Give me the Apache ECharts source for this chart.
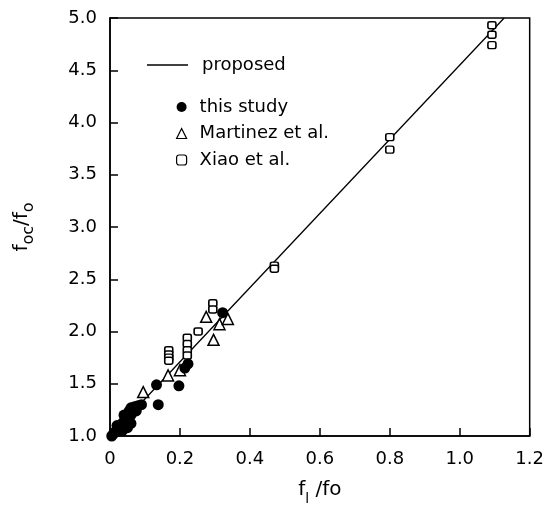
<!DOCTYPE html>
<html>
<head>
<meta charset="utf-8">
<script src="https://cdn.jsdelivr.net/npm/echarts@6/dist/echarts.min.js"></script>
<style>html,body{margin:0;padding:0;background:#fff}#c{width:547px;height:512px}</style>
</head>
<body>
<div id="c"></div>
<script>
var xTicks = [0, 0.2, 0.4, 0.6, 0.8, 1.0, 1.2];
var yTicks = [1.0, 1.5, 2.0, 2.5, 3.0, 3.5, 4.0, 4.5, 5.0];
var proposedLine = [[0, 1.0], [1.127, 5.0]];
var thisStudy = [
  [0.005,1.00],[0.010,1.02],[0.015,1.04],[0.020,1.06],[0.025,1.08],[0.030,1.10],
  [0.035,1.12],[0.040,1.14],[0.045,1.17],[0.050,1.20],[0.055,1.24],[0.060,1.27],
  [0.070,1.28],[0.080,1.29],[0.090,1.30],[0.050,1.08],[0.060,1.12],[0.035,1.05],
  [0.020,1.10],[0.040,1.20],[0.060,1.20],[0.075,1.24],[0.045,1.10],
  [0.138,1.30],[0.133,1.49],[0.197,1.48],[0.214,1.65],[0.223,1.69],[0.322,2.18]
];
var martinez = [
  [0.095,1.42],[0.166,1.58],[0.200,1.63],[0.275,2.14],[0.296,1.92],[0.313,2.07],[0.337,2.12]
];
var xiao = [
  [0.168,1.82],[0.168,1.78],[0.168,1.75],[0.168,1.72],
  [0.221,1.94],[0.221,1.88],[0.221,1.82],[0.221,1.77],
  [0.252,2.00],[0.294,2.27],[0.294,2.21],[0.470,2.63],[0.470,2.60],
  [0.800,3.86],[0.800,3.74],[1.092,4.93],[1.092,4.84],[1.092,4.74]
];

var FONT = 'DejaVu Sans';
var chart = echarts.init(document.getElementById('c'));
chart.setOption({
  animation: false,
  backgroundColor: '#fff',
  textStyle: {fontFamily: FONT, color: '#000'},
  grid: {left: 110, right: 16, top: 18, bottom: 76, show: true, borderColor: '#000', borderWidth: 1.5},
  xAxis: {
    type: 'value', min: xTicks[0], max: xTicks[xTicks.length-1], interval: 0.2,
    axisLine: {show: true, lineStyle: {color: '#000', width: 1.5}},
    axisTick: {show: true, inside: true, length: 8, lineStyle: {color: '#000', width: 1.5}},
    splitLine: {show: false},
    axisLabel: {color: '#000', fontSize: 18, fontFamily: FONT, margin: 14,
      formatter: function(v){ return v === 0 ? '0' : v.toFixed(1); }},
    name: '{a|f}{s|l}{a| /fo}', nameLocation: 'middle', nameGap: 44,
    nameTextStyle: {rich: {
      a: {fontSize: 20, fontFamily: FONT, color: '#000'},
      s: {fontSize: 14, fontFamily: FONT, color: '#000', verticalAlign: 'bottom', padding: [0,0,-6,0]}
    }}
  },
  yAxis: {
    type: 'value', min: yTicks[0], max: yTicks[yTicks.length-1], interval: 0.5,
    axisLine: {show: true, lineStyle: {color: '#000', width: 1.5}},
    axisTick: {show: true, inside: true, length: 8, lineStyle: {color: '#000', width: 1.5}},
    splitLine: {show: false},
    axisLabel: {color: '#000', fontSize: 18, fontFamily: FONT, margin: 13,
      formatter: function(v){ return v.toFixed(1); }},
    name: '{a|f}{s|oc}{a|/f}{s|o}', nameLocation: 'middle', nameGap: 78,
    nameTextStyle: {rich: {
      a: {fontSize: 20, fontFamily: FONT, color: '#000'},
      s: {fontSize: 16, fontFamily: FONT, color: '#000', verticalAlign: 'bottom', padding: [0,0,-5,0]}
    }}
  },
  legend: [
    {data: [{name: 'proposed', icon: 'rect'}], left: 142, top: 51, itemWidth: 41, itemHeight: 1.5, itemGap: 0,
     textStyle: {fontSize: 18, fontFamily: FONT, color: '#000', padding: [0,0,0,9]}},
    {data: ['this study', 'Martinez et al.', 'Xiao et al.'], orient: 'vertical', left: 171, top: 93,
     itemWidth: 10, itemHeight: 10, itemGap: 8.5,
     itemStyle: {borderWidth: 1.2},
     textStyle: {fontSize: 18, fontFamily: FONT, color: '#000', padding: [0,0,0,8]}}
  ],
  series: [
    {name: 'proposed', type: 'line', data: proposedLine, showSymbol: false, symbol: 'none',
     lineStyle: {color: '#000', width: 1.3}, itemStyle: {color: '#000'}, z: 1},
    {name: 'Xiao et al.', type: 'scatter', data: xiao, symbol: 'roundRect', symbolSize: [8, 7],
     itemStyle: {color: '#fff', borderColor: '#000', borderWidth: 1.5, opacity: 1}, z: 3},
    {name: 'Martinez et al.', type: 'scatter', data: martinez, symbol: 'triangle', symbolSize: 11,
     itemStyle: {color: '#fff', borderColor: '#000', borderWidth: 1.5, opacity: 1}, z: 3},
    {name: 'this study', type: 'scatter', data: thisStudy, symbol: 'circle', symbolSize: 11,
     itemStyle: {color: '#000', opacity: 1}, z: 4}
  ]
});
</script>
</body>
</html>
